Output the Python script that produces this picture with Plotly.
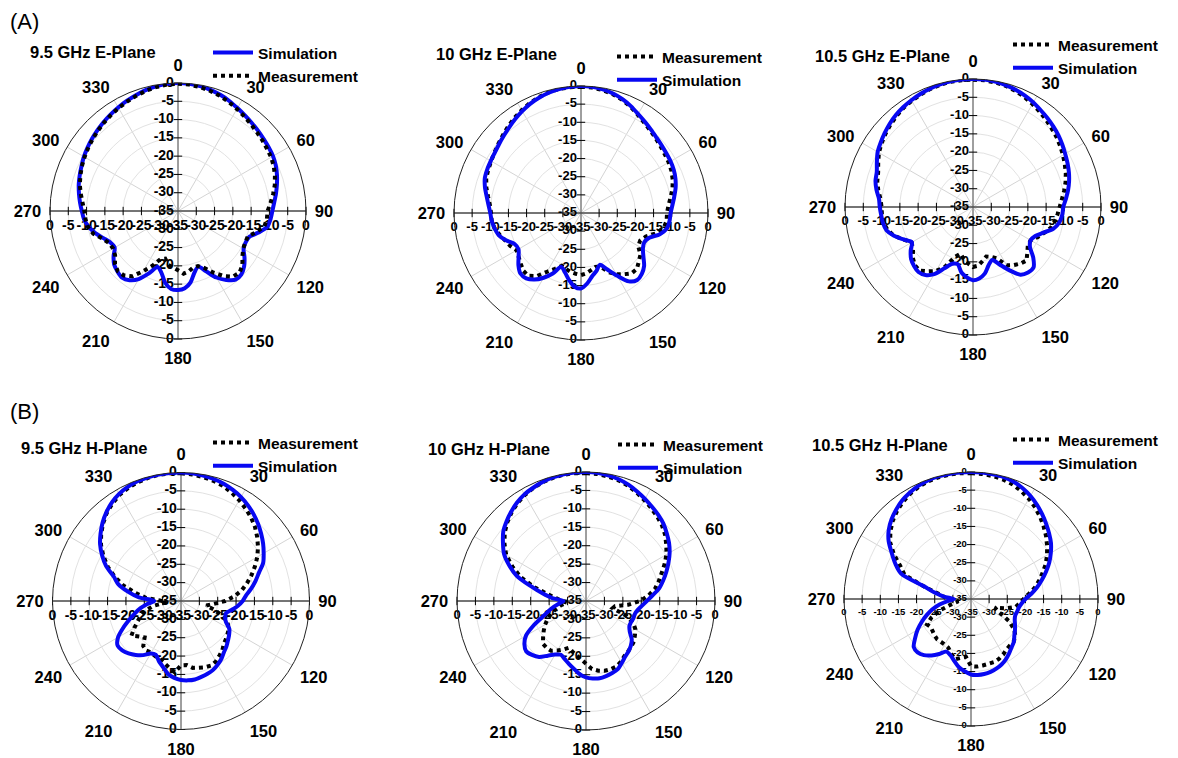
import plotly.graph_objects as go

W, H = 1178, 758
FONT = "Liberation Sans, Arial, sans-serif"
BLUE = "#0808f2"

# ---------------- data (dB, every 5 degrees from 0 to 355) ----------------
ANGLES = list(range(0, 360, 5))
RADIAL_TICKS = [-35, -30, -25, -20, -15, -10, -5, 0]
ANGULAR_TICKS = list(range(0, 360, 30))

SIM_E95 = [0, -0.1, -0.3, -0.7, -1.2, -1.8, -2.5, -3.1, -3.6, -4.0, -4.4, -4.7, -5.0, -5.5, -6.2, -7.0, -7.8, -8.6,
           -9.2, -9.6, -10.2, -12.2, -14.3, -14.6, -14.3, -12.8, -11.4, -10.5, -10.5, -12.0, -14.0, -16.8, -18.8, -17.6, -15.2, -13.8,
           -13.4, -13.6, -15.0, -17.5, -18.7, -16.2, -13.5, -11.9, -11.2, -11.6, -12.2, -13.5, -15.0, -14.6, -13.3, -11.6, -10.2, -9.2,
           -8.7, -8.1, -7.5, -6.9, -6.4, -5.9, -5.3, -4.8, -4.3, -3.8, -3.3, -2.8, -2.3, -1.8, -1.3, -0.8, -0.4, -0.1]
MEAS_E95 = [-0.2, -0.3, -0.6, -1.0, -1.5, -2.1, -2.8, -3.4, -4.0, -4.5, -4.9, -5.3, -5.6, -6.1, -6.8, -7.6, -8.6, -9.6,
            -10.5, -10.6, -11.0, -12.8, -14.7, -14.7, -14.4, -13.5, -12.0, -11.2, -11.6, -13.3, -15.5, -17.8, -19.0, -19.0, -18.2, -17.8,
            -18.8, -19.5, -20.0, -21.5, -21.0, -18.5, -16.0, -13.2, -12.0, -11.7, -12.5, -14.0, -14.5, -14.2, -13.0, -11.0, -10.0, -9.6,
            -9.4, -8.8, -8.0, -7.2, -6.6, -6.0, -5.5, -5.0, -4.5, -4.0, -3.5, -3.0, -2.5, -2.0, -1.5, -1.0, -0.6, -0.3]

SIM_E10 = [0, -0.1, -0.4, -0.9, -1.6, -2.5, -3.5, -4.3, -5.0, -5.6, -6.0, -6.3, -6.5, -6.8, -7.3, -8.0, -8.9, -9.7,
           -10.3, -10.5, -10.9, -12.5, -15.0, -15.8, -15.3, -14.0, -12.3, -11.3, -10.9, -12.0, -15.0, -17.8, -19.8, -18.5, -17.3, -15.5,
           -14.2, -14.6, -16.2, -18.0, -19.2, -16.6, -14.4, -12.6, -11.5, -11.4, -12.5, -14.0, -15.1, -14.8, -13.0, -11.5, -10.8, -10.3,
           -10.0, -9.4, -8.6, -7.6, -6.8, -6.5, -6.3, -6.0, -5.5, -4.9, -4.2, -3.4, -2.6, -1.8, -1.2, -0.7, -0.3, -0.1]
MEAS_E10 = [-0.2, -0.3, -0.6, -1.1, -1.8, -2.7, -3.7, -4.6, -5.3, -5.9, -6.4, -6.8, -7.1, -7.5, -8.1, -8.9, -9.9, -10.8,
            -11.3, -11.3, -11.8, -13.5, -16.0, -17.0, -16.8, -15.0, -14.2, -13.2, -13.3, -14.4, -15.5, -17.0, -19.3, -19.6, -19.0, -18.3,
            -17.9, -18.2, -18.5, -19.0, -19.5, -18.0, -16.3, -13.8, -12.4, -12.5, -13.3, -14.0, -14.5, -13.5, -12.8, -11.8, -10.8, -10.3,
            -10.2, -9.8, -9.0, -8.0, -7.2, -6.8, -6.4, -5.9, -5.3, -4.6, -3.8, -3.0, -2.3, -1.6, -1.0, -0.6, -0.3, -0.2]

SIM_E105 = [0, 0, -0.2, -0.5, -0.9, -1.4, -2.0, -2.7, -3.3, -3.9, -4.5, -5.2, -5.9, -6.5, -7.1, -7.8, -8.6, -9.5,
            -10.3, -10.5, -11.0, -12.2, -14.5, -16.2, -16.8, -16.0, -13.5, -11.6, -11.6, -12.4, -15.0, -17.6, -19.6, -18.5, -16.5, -15.4,
            -15.0, -15.7, -16.8, -18.8, -18.5, -16.5, -13.8, -12.3, -11.8, -12.2, -12.9, -14.2, -15.7, -14.0, -12.0, -10.5, -10.0, -9.8,
            -9.5, -9.2, -8.2, -7.4, -7.0, -6.0, -4.9, -4.2, -3.5, -2.8, -2.2, -1.7, -1.3, -0.9, -0.6, -0.3, -0.1, 0]
MEAS_E105 = [-0.2, -0.2, -0.4, -0.7, -1.2, -1.8, -2.5, -3.2, -3.9, -4.6, -5.2, -5.9, -6.6, -7.3, -8.0, -8.8, -9.7, -10.6,
             -11.3, -11.8, -12.3, -13.0, -14.3, -15.5, -16.8, -16.7, -15.6, -14.3, -14.8, -15.6, -16.6, -19.5, -20.5, -21.0, -20.0, -18.9,
             -18.6, -19.5, -20.5, -21.8, -20.5, -17.0, -14.8, -13.5, -12.3, -12.5, -13.5, -15.0, -15.6, -14.0, -12.0, -10.8, -10.2, -10.0,
             -10.0, -9.6, -8.7, -7.9, -7.4, -6.4, -5.3, -4.5, -3.8, -3.1, -2.5, -1.9, -1.5, -1.1, -0.7, -0.4, -0.2, -0.2]

SIM_H95 = [0, -0.1, -0.3, -0.6, -1.0, -1.6, -2.3, -3.2, -4.2, -5.3, -6.5, -7.7, -9.0, -10.3, -12.4, -14.0, -15.6, -17.2,
           -18.2, -19.5, -21.0, -22.3, -22.2, -21.5, -19.8, -19.0, -18.3, -17.5, -16.8, -15.8, -15.0, -14.3, -13.9, -13.6, -13.3, -13.3,
           -13.5, -14.0, -14.8, -16.3, -17.5, -18.8, -18.5, -17.0, -15.8, -14.8, -14.1, -13.9, -15.2, -17.6, -20.0, -22.0, -23.8, -25.8,
           -27.7, -23.5, -20.3, -17.3, -15.5, -12.5, -10.2, -8.1, -6.4, -4.8, -3.4, -2.2, -1.3, -0.7, -0.3, -0.1, 0, 0]
MEAS_H95 = [-0.2, -0.4, -0.7, -1.1, -1.6, -2.4, -3.3, -4.3, -5.3, -6.5, -7.9, -9.4, -11.0, -12.8, -14.6, -16.4, -18.2, -20.4,
            -23.0, -26.0, -28.0, -25.5, -22.8, -21.0, -20.0, -19.5, -19.0, -18.5, -17.5, -16.8, -16.0, -15.6, -15.8, -16.2, -16.5, -17.5,
            -17.5, -15.5, -16.5, -17.5, -18.2, -18.4, -18.8, -18.5, -19.0, -21.0, -20.0, -18.5, -20.3, -22.0, -23.3, -25.0, -27.5, -31.0,
            -30.0, -25.5, -22.5, -18.8, -15.8, -13.0, -10.6, -8.4, -6.6, -5.0, -3.6, -2.5, -1.6, -1.0, -0.6, -0.3, -0.1, -0.1]

SIM_H10 = [0, -0.1, -0.4, -0.8, -1.4, -2.2, -3.0, -3.8, -4.5, -5.3, -6.4, -7.5, -8.8, -10.3, -11.8, -13.3, -14.8, -16.8,
           -18.5, -19.8, -20.8, -21.3, -21.3, -21.5, -21.4, -20.5, -18.8, -17.8, -17.1, -16.5, -15.6, -14.6, -14.2, -13.9, -13.7, -13.9,
           -14.3, -15.1, -16.3, -17.3, -18.2, -18.9, -18.2, -16.9, -15.2, -14.3, -13.8, -14.6, -16.2, -19.3, -22.5, -24.5, -26.2, -27.8,
           -28.9, -25.8, -23.0, -19.5, -15.0, -12.0, -9.3, -7.5, -5.7, -4.5, -3.4, -2.4, -1.6, -1.1, -0.6, -0.3, -0.1, 0]
MEAS_H10 = [-0.3, -0.4, -0.7, -1.1, -1.7, -2.5, -3.4, -4.2, -5.0, -5.9, -7.0, -8.4, -9.8, -11.5, -13.2, -14.6, -16.0, -18.0,
            -20.3, -23.5, -27.0, -27.5, -23.5, -20.8, -19.5, -18.8, -18.0, -17.6, -17.2, -16.8, -16.0, -15.4, -15.3, -15.4, -15.8, -16.5,
            -18.0, -19.2, -20.0, -20.8, -21.5, -20.5, -19.5, -18.5, -18.4, -18.5, -19.8, -21.0, -22.2, -23.5, -25.0, -26.5, -28.0, -29.8,
            -28.5, -27.0, -24.5, -20.5, -16.2, -13.0, -10.0, -8.0, -6.2, -4.8, -3.6, -2.6, -1.8, -1.2, -0.7, -0.4, -0.2, -0.2]

SIM_H105 = [0, 0, -0.1, -0.2, -0.6, -1.3, -2.2, -3.3, -4.5, -5.7, -6.9, -8.1, -9.6, -11.2, -13.0, -14.8, -16.5, -18.3,
            -20.0, -21.0, -21.6, -21.8, -22.0, -21.7, -21.0, -20.2, -19.4, -18.3, -17.6, -16.7, -15.8, -15.1, -14.6, -14.2, -14.0, -14.0,
            -14.2, -15.0, -15.9, -17.3, -18.5, -19.0, -17.5, -16.0, -14.8, -14.2, -14.4, -16.2, -18.0, -20.0, -22.0, -24.0, -26.2, -28.5,
            -30.3, -27.5, -24.8, -21.7, -14.5, -12.0, -9.8, -7.3, -5.4, -4.0, -2.9, -1.9, -1.2, -0.6, -0.2, 0, 0, 0]
MEAS_H105 = [-0.3, -0.4, -0.6, -0.9, -1.4, -2.2, -3.1, -4.2, -5.4, -6.7, -8.0, -9.4, -10.8, -12.3, -14.0, -15.6, -17.2, -19.0,
             -20.5, -21.5, -22.5, -25.0, -28.0, -26.5, -23.0, -20.5, -19.0, -18.4, -18.3, -18.0, -17.3, -16.8, -16.5, -16.5, -16.4, -16.3,
             -16.5, -19.0, -18.5, -17.8, -19.0, -20.2, -20.5, -20.6, -20.5, -20.8, -21.2, -21.5, -21.0, -23.0, -26.0, -29.5, -31.5, -30.0,
             -28.5, -27.5, -25.5, -21.5, -15.5, -13.5, -10.5, -7.8, -6.0, -4.5, -3.3, -2.3, -1.5, -0.9, -0.5, -0.3, -0.2, -0.2]

TITLES = ["9.5 GHz E-Plane", "10 GHz E-Plane", "10.5 GHz E-Plane",
          "9.5 GHz H-Plane", "10 GHz H-Plane", "10.5 GHz H-Plane"]
SIMS = [SIM_E95, SIM_E10, SIM_E105, SIM_H95, SIM_H10, SIM_H105]
MEASES = [MEAS_E95, MEAS_E10, MEAS_E105, MEAS_H95, MEAS_H10, MEAS_H105]
SIM_FIRST = [True, False, False, False, False, False]

# ---------------- layout geometry (pixels) ----------------
CENTERS = [(178, 211), (581, 213), (973, 207), (181, 601), (586, 601), (971, 599)]
RADII = [128, 127, 128, 128.5, 129, 127]
TITLE_POS = [(28, 52), (434, 54), (813, 56), (19, 448), (426, 449), (810, 445)]
LEGEND_POS = [(208, 36), (612, 40), (1008, 28), (208, 426), (613, 428), (1008, 423)]
RFONT = [14, 13, 13, 14, 13, 9.5]


def closed(a):
    return list(a) + [a[0]]


fig = go.Figure()
layout_polars = {}
annotations = []

for i in range(6):
    pid = "polar" if i == 0 else f"polar{i + 1}"
    sub = pid
    lid = "legend" if i == 0 else f"legend{i + 1}"
    cx, cy = CENTERS[i]
    R = RADII[i]
    layout_polars[pid] = dict(
        domain=dict(x=[(cx - R) / W, (cx + R) / W], y=[1 - (cy + R) / H, 1 - (cy - R) / H]),
        bgcolor="white",
        angularaxis=dict(
            rotation=90, direction="clockwise",
            tickmode="array", tickvals=ANGULAR_TICKS, ticktext=[str(t) for t in ANGULAR_TICKS],
            tickfont=dict(family=FONT, size=16.5, color="black", weight="bold"),
            showline=True, linecolor="#222", linewidth=1,
            showgrid=True, gridcolor="#d4d4d4", gridwidth=1,
            ticks="outside", ticklen=5, tickcolor="rgba(0,0,0,0)",
        ),
        radialaxis=dict(
            range=[-35, 0], tickmode="array", tickvals=RADIAL_TICKS,
            showticklabels=False, showline=False, ticks="",
            showgrid=True, gridcolor="#e2e2e2", gridwidth=1,
        ),
    )

    # axis lines through centre
    fig.add_trace(go.Scatterpolar(r=[0, -35, 0], theta=[270, 270, 90], mode="lines",
                                  line=dict(color="black", width=1), subplot=sub,
                                  showlegend=False, hoverinfo="skip"))
    fig.add_trace(go.Scatterpolar(r=[0, -35, 0], theta=[0, 0, 180], mode="lines",
                                  line=dict(color="#555", width=1), subplot=sub,
                                  showlegend=False, hoverinfo="skip"))
    inner = RADIAL_TICKS[1:]
    for th, sym in [(90, "line-ns"), (270, "line-ns"), (0, "line-ew"), (180, "line-ew")]:
        fig.add_trace(go.Scatterpolar(r=inner, theta=[th] * len(inner), mode="markers",
                                      marker=dict(symbol=sym, size=6, line=dict(color="black", width=1)),
                                      subplot=sub, showlegend=False, hoverinfo="skip", cliponaxis=False))

    # radial tick labels in four directions
    tf = dict(family=FONT, size=RFONT[i], color="black", weight="bold")
    for th, vals, pos, msize in [(0, RADIAL_TICKS, "middle left", 5),
                                 (180, RADIAL_TICKS[1:], "middle left", 5),
                                 (270, RADIAL_TICKS[1:], "bottom center", 12),
                                 (90, RADIAL_TICKS, "bottom center", 12)]:
        fig.add_trace(go.Scatterpolar(r=vals, theta=[th] * len(vals), mode="markers+text",
                                      text=[str(v) for v in vals], textposition=pos, textfont=tf,
                                      marker=dict(size=msize, color="rgba(0,0,0,0)"),
                                      subplot=sub, showlegend=False, hoverinfo="skip", cliponaxis=False))

    sim_tr = go.Scatterpolar(r=closed(SIMS[i]), theta=closed(ANGLES), mode="lines", name="Simulation",
                             line=dict(color=BLUE, width=4, shape="spline", smoothing=0.8),
                             subplot=sub, legend=lid, cliponaxis=False)
    meas_tr = go.Scatterpolar(r=closed(MEASES[i]), theta=closed(ANGLES), mode="lines", name="Measurement",
                              line=dict(color="black", width=4, dash="dot"),
                              subplot=sub, legend=lid, cliponaxis=False)
    if SIM_FIRST[i]:
        fig.add_trace(sim_tr)
        fig.add_trace(meas_tr)
    else:
        fig.add_trace(meas_tr)
        fig.add_trace(sim_tr)

    lx, ly = LEGEND_POS[i]
    layout_polars[lid] = dict(
        x=lx / W, y=1 - ly / H, xanchor="left", yanchor="top",
        bgcolor="rgba(0,0,0,0)", borderwidth=0, itemwidth=40,
        font=dict(family=FONT, size=15.5, color="black", weight="bold"),
        tracegroupgap=0,
    )

    tx, ty = TITLE_POS[i]
    annotations.append(dict(x=tx / W, y=1 - ty / H, xref="paper", yref="paper", xanchor="left",
                            yanchor="middle", showarrow=False, text=TITLES[i],
                            font=dict(family=FONT, size=16.5, color="black", weight="bold")))

annotations.append(dict(x=8 / W, y=1 - 22 / H, xref="paper", yref="paper", xanchor="left", yanchor="middle",
                        showarrow=False, text="(A)", font=dict(family=FONT, size=22, color="black")))
annotations.append(dict(x=8 / W, y=1 - 411 / H, xref="paper", yref="paper", xanchor="left", yanchor="middle",
                        showarrow=False, text="(B)", font=dict(family=FONT, size=22, color="black")))

fig.update_layout(
    width=W, height=H, margin=dict(l=0, r=0, t=0, b=0),
    paper_bgcolor="white", plot_bgcolor="white",
    annotations=annotations,
    **layout_polars,
)

fig.write_html("out.html", config={"displayModeBar": False},
               post_script="document.body.style.margin='0px';document.body.style.padding='0px';")
